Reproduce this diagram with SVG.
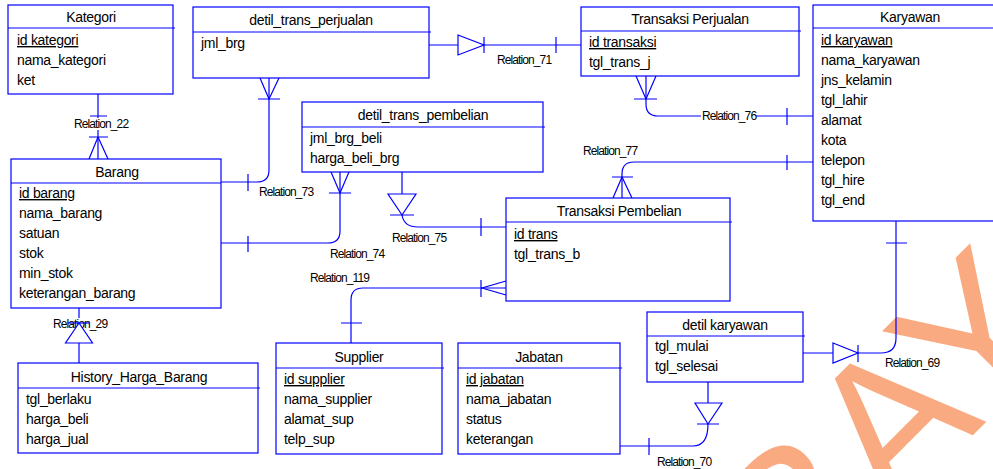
<svg xmlns="http://www.w3.org/2000/svg" width="993" height="469" viewBox="0 0 993 469">
  <style>
    .box { fill: #ffffff; stroke: #0000ff; stroke-width: 1.2; }
    .sep { stroke: #0000ff; stroke-width: 1.2; }
    .ln { fill: none; stroke: #0000ff; stroke-width: 1.2; }
    .tri { fill: #ffffff; stroke: #0000ff; stroke-width: 1.2; }
    .t { font-family: "Liberation Sans", Arial, sans-serif; font-size: 14px; letter-spacing: -0.3px; fill: #000000; }
    .h { text-anchor: middle; }
    .pk { text-decoration: underline; }
    .rl { font-family: "Liberation Sans", Arial, sans-serif; font-size: 12px; letter-spacing: -0.9px; fill: #000000; }
    .bg { fill: #ffffff; }
    .wm { font-family: "Liberation Sans", Arial, sans-serif; font-size: 200px; fill: #faaa80; }
  </style>

  <rect x="0" y="0" width="993" height="469" fill="#ffffff"/>

  <!-- watermark lettering, partly outside the canvas -->
  <text class="wm" x="798" y="610" transform="rotate(-45 798 610)">BAYA</text>

  <!-- relationships -->
  <g id="connectors">
    <g id="rel-22">
      <path class="ln" d="M98,94 V159"/>
      <rect class="bg" x="73" y="118" width="56" height="12"/>
      <text class="rl" x="74" y="128">Relation_22</text>
      <path class="ln" d="M90,116 H107 M89,137 H108 M98,137 L89,159 M98,137 L108,159"/>
    </g>
    <g id="rel-29">
      <path class="ln" d="M79,308 V363"/>
      <rect class="bg" x="52" y="318" width="56" height="11"/>
      <text class="rl" x="53" y="328">Relation_29</text>
      <path class="tri" d="M79,323 L65.5,343 H92.5 Z"/>
      <path class="ln" d="M68,323 H90"/>
    </g>
    <g id="rel-73">
      <path class="ln" d="M269,78 V170 Q269,182 257,182 H221"/>
      <path class="ln" d="M260,78 L269,99 L279,78 M258,99 H280 M248,174 V191"/>
      <text class="rl" x="259" y="196">Relation_73</text>
    </g>
    <g id="rel-74">
      <path class="ln" d="M340,172 V231 Q340,243 328,243 H221"/>
      <path class="ln" d="M331,172 L340,193 L349,172 M329,193 H351 M248,236 V252"/>
      <text class="rl" x="330" y="258">Relation_74</text>
    </g>
    <g id="rel-71">
      <path class="ln" d="M429,45 H581"/>
      <path class="tri" d="M458,35 L484,45 L458,55 Z"/>
      <path class="ln" d="M484,37 V53 M556,37 V53"/>
      <text class="rl" x="497" y="64">Relation_71</text>
    </g>
    <g id="rel-76">
      <path class="ln" d="M646,76 V104 Q646,116 658,116 H813"/>
      <path class="ln" d="M636,76 L646,99 L656,76 M634,99 H657 M787,108 V125"/>
      <rect class="bg" x="701" y="110" width="55" height="11"/>
      <text class="rl" x="702" y="120">Relation_76</text>
    </g>
    <g id="rel-77">
      <path class="ln" d="M813,162 H634 Q622,162 622,174 V198"/>
      <path class="ln" d="M613,198 L622,177 L632,198 M612,177 H633 M787,155 V170"/>
      <text class="rl" x="583" y="155">Relation_77</text>
    </g>
    <g id="rel-75">
      <path class="ln" d="M402,172 V194"/>
      <path class="tri" d="M388,194 H416 L402,215 Z"/>
      <path class="ln" d="M390,215 H414 M402,215 Q404,227 418,227 H506 M481,218 V236"/>
      <text class="rl" x="392" y="242">Relation_75</text>
    </g>
    <g id="rel-119">
      <path class="ln" d="M506,288 H363 Q351,288 351,300 V343"/>
      <path class="ln" d="M506,281 L482,288 L506,295 M481,280 V297 M341,323 H362"/>
      <text class="rl" x="310" y="282">Relation_119</text>
    </g>
    <g id="rel-69">
      <path class="ln" d="M896,221 V338 Q896,353 881,353 H803"/>
      <path class="tri" d="M833,343 L858,353 L833,363 Z"/>
      <path class="ln" d="M858,345 V362 M886,243 H907"/>
      <text class="rl" x="885" y="367">Relation_69</text>
    </g>
    <g id="rel-70">
      <path class="ln" d="M708,382 V403"/>
      <path class="tri" d="M695,403 H722 L708,424 Z"/>
      <path class="ln" d="M697,424 H719 M708,424 Q708,446 693,446 H620 M649,438 V455"/>
      <text class="rl" x="657" y="466">Relation_70</text>
    </g>
  </g>

  <!-- entities -->
  <g id="kategori">
    <rect class="box" x="8" y="5" width="165" height="89"/>
    <line class="sep" x1="8" y1="28" x2="175" y2="28"/>
    <text class="t h" x="91" y="22">Kategori</text>
    <text class="t pk" x="17" y="45">id kategori</text>
    <text class="t" x="17" y="65">nama_kategori</text>
    <text class="t" x="17" y="85">ket</text>
  </g>

  <g id="detil_trans_perjualan">
    <rect class="box" x="193" y="7" width="236" height="71"/>
    <line class="sep" x1="193" y1="32" x2="431" y2="32"/>
    <text class="t h" x="311" y="25">detil_trans_perjualan</text>
    <text class="t" x="201" y="48">jml_brg</text>
  </g>

  <g id="transaksi_perjualan">
    <rect class="box" x="581" y="7" width="218" height="69"/>
    <line class="sep" x1="581" y1="31" x2="801" y2="31"/>
    <text class="t h" x="690" y="24">Transaksi Perjualan</text>
    <text class="t pk" x="589" y="47">id transaksi</text>
    <text class="t" x="589" y="67">tgl_trans_j</text>
  </g>

  <g id="karyawan">
    <rect class="box" x="813" y="5" width="194" height="216"/>
    <line class="sep" x1="813" y1="28" x2="1007" y2="28"/>
    <text class="t h" x="910" y="22">Karyawan</text>
    <text class="t pk" x="821" y="45">id karyawan</text>
    <text class="t" x="821" y="65">nama_karyawan</text>
    <text class="t" x="821" y="85">jns_kelamin</text>
    <text class="t" x="821" y="105">tgl_lahir</text>
    <text class="t" x="821" y="125">alamat</text>
    <text class="t" x="821" y="145">kota</text>
    <text class="t" x="821" y="165">telepon</text>
    <text class="t" x="821" y="185">tgl_hire</text>
    <text class="t" x="821" y="205">tgl_end</text>
  </g>

  <g id="barang">
    <rect class="box" x="11" y="159" width="210" height="149"/>
    <line class="sep" x1="11" y1="183" x2="221" y2="183"/>
    <text class="t h" x="117" y="177">Barang</text>
    <text class="t pk" x="19" y="198">id barang</text>
    <text class="t" x="19" y="218">nama_barang</text>
    <text class="t" x="19" y="238">satuan</text>
    <text class="t" x="19" y="258">stok</text>
    <text class="t" x="19" y="278">min_stok</text>
    <text class="t" x="19" y="298">keterangan_barang</text>
  </g>

  <g id="detil_trans_pembelian">
    <rect class="box" x="302" y="102" width="241" height="70"/>
    <line class="sep" x1="302" y1="127" x2="545" y2="127"/>
    <text class="t h" x="423" y="120">detil_trans_pembelian</text>
    <text class="t" x="310" y="143">jml_brg_beli</text>
    <text class="t" x="310" y="163">harga_beli_brg</text>
  </g>

  <g id="transaksi_pembelian">
    <rect class="box" x="506" y="198" width="224" height="103"/>
    <line class="sep" x1="506" y1="222" x2="732" y2="222"/>
    <text class="t h" x="619" y="216">Transaksi Pembelian</text>
    <text class="t pk" x="514" y="239">id trans</text>
    <text class="t" x="514" y="259">tgl_trans_b</text>
  </g>

  <g id="history_harga_barang">
    <rect class="box" x="18" y="363" width="240" height="90"/>
    <line class="sep" x1="18" y1="388" x2="260" y2="388"/>
    <text class="t h" x="139" y="382">History_Harga_Barang</text>
    <text class="t" x="26" y="404">tgl_berlaku</text>
    <text class="t" x="26" y="424">harga_beli</text>
    <text class="t" x="26" y="444">harga_jual</text>
  </g>

  <g id="supplier">
    <rect class="box" x="276" y="343" width="166" height="111"/>
    <line class="sep" x1="276" y1="368" x2="444" y2="368"/>
    <text class="t h" x="359" y="362">Supplier</text>
    <text class="t pk" x="284" y="384">id supplier</text>
    <text class="t" x="284" y="404">nama_supplier</text>
    <text class="t" x="284" y="424">alamat_sup</text>
    <text class="t" x="284" y="444">telp_sup</text>
  </g>

  <g id="jabatan">
    <rect class="box" x="458" y="343" width="162" height="111"/>
    <line class="sep" x1="458" y1="368" x2="622" y2="368"/>
    <text class="t h" x="539" y="362">Jabatan</text>
    <text class="t pk" x="466" y="384">id jabatan</text>
    <text class="t" x="466" y="404">nama_jabatan</text>
    <text class="t" x="466" y="424">status</text>
    <text class="t" x="466" y="444">keterangan</text>
  </g>

  <g id="detil_karyawan">
    <rect class="box" x="647" y="312" width="156" height="70"/>
    <line class="sep" x1="647" y1="336" x2="805" y2="336"/>
    <text class="t h" x="725" y="330">detil karyawan</text>
    <text class="t" x="655" y="351">tgl_mulai</text>
    <text class="t" x="655" y="371">tgl_selesai</text>
  </g>
</svg>
